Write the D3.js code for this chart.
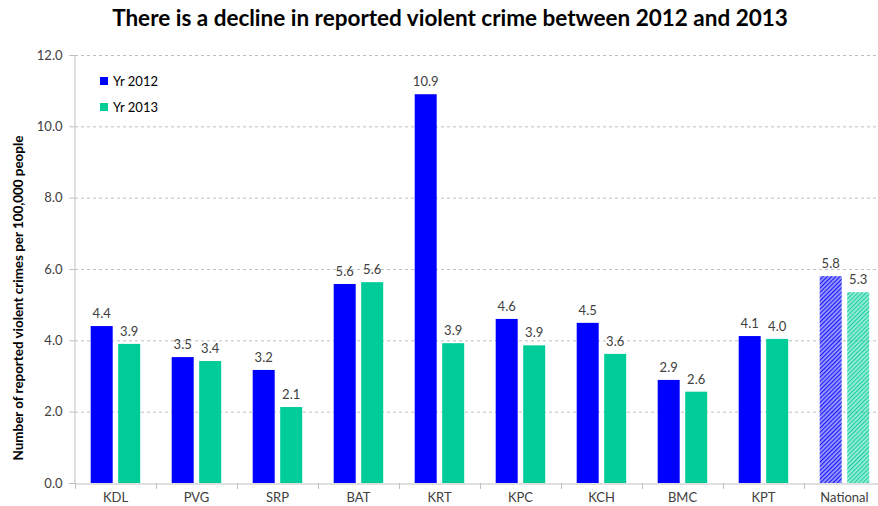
<!DOCTYPE html>
<html><head><meta charset="utf-8">
<script src="https://cdn.jsdelivr.net/npm/d3@7"></script>
<style>body{margin:0;background:#fff;} svg{display:block;font-family:Lato,"Open Sans",sans-serif;}</style>
</head><body>
<svg id="chart" width="878" height="506"></svg>
<script>
const categories = ["KDL","PVG","SRP","BAT","KRT","KPC","KCH","BMC","KPT","National"];
const values2012 = [4.40,3.53,3.17,5.58,10.90,4.60,4.49,2.89,4.12,5.80];
const values2013 = [3.90,3.42,2.13,5.63,3.92,3.86,3.62,2.56,4.04,5.35];
const seriesNames = ["Yr 2012","Yr 2013"];
const yTicks = [0,2,4,6,8,10,12];
const title = "There is a decline in reported violent crime between 2012 and 2013";
const yTitle = "Number of reported violent crimes per 100,000 people";

const svg = d3.select("#chart");
const x = d3.scaleBand().domain(categories).range([75, 885]).paddingInner(0).paddingOuter(0);
const y = d3.scaleLinear().domain([0,12]).range([483, 55]);
const colors = ["#0000FF","#00CC99"];

const defs = svg.append("defs");
[["hatchBlue","#0000FF"],["hatchGreen","#00CC99"]].forEach(([id,c])=>{
  const p = defs.append("pattern").attr("id",id).attr("patternUnits","userSpaceOnUse")
    .attr("width",3).attr("height",3).attr("patternTransform","rotate(45)");
  p.append("rect").attr("width",3).attr("height",3).attr("fill",c).attr("opacity",0.4);
  p.append("rect").attr("width",1.1).attr("height",3).attr("fill",c).attr("opacity",0.85);
});

// title
svg.append("text").attr("x",450).attr("y",26).attr("text-anchor","middle")
  .attr("font-size",22.5).attr("font-weight","bold").attr("fill","#000").text(title);

// gridlines
svg.append("g").selectAll("line").data(yTicks.filter(d=>d>0)).join("line")
  .attr("x1",75).attr("x2",878).attr("y1",d=>y(d)+0.5).attr("y2",d=>y(d)+0.5)
  .attr("stroke","#BFBFBF").attr("stroke-dasharray","3,3").attr("stroke-width",1);

// y axis
const yAxis = d3.axisLeft(y).tickValues(yTicks).tickFormat(d3.format(".1f")).tickSize(5).tickPadding(7);
const gy = svg.append("g").attr("transform","translate(74.5,0)").call(yAxis);
gy.selectAll("path,line").attr("stroke","#BFBFBF");
gy.selectAll("text").attr("font-size",13).attr("fill","#404040").attr("font-family","Lato,sans-serif");

// x axis
const xAxis = d3.axisBottom(x).tickSize(0).tickPadding(9);
const gx = svg.append("g").attr("transform","translate(0,483.5)").call(xAxis);
gx.select(".domain").attr("stroke","#BFBFBF");
gx.selectAll("text").attr("font-size",13).attr("fill","#404040").attr("font-family","Lato,sans-serif");
// category boundary ticks
svg.append("g").selectAll("line").data(categories).join("line")
  .attr("x1",d=>Math.round(x(d))+0.5).attr("x2",d=>Math.round(x(d))+0.5)
  .attr("y1",483).attr("y2",489).attr("stroke","#BFBFBF");

// y title
svg.append("text").attr("transform","translate(23,298) rotate(-90)").attr("text-anchor","middle")
  .attr("font-size",13.4).attr("font-weight","bold").attr("fill","#000").text(yTitle);

// bars
const bw = 22, gap = 5.5, off = 15.7;
const data = categories.map((c,i)=>({c, v:[values2012[i], values2013[i]]}));
const g = svg.append("g");
data.forEach((d,i)=>{
  d.v.forEach((v,s)=>{
    const bx = x(d.c) + off + s*(bw+gap);
    const isNat = d.c === "National";
    g.append("rect").attr("x",bx).attr("y",y(v)).attr("width",bw).attr("height",y(0)-y(v))
      .attr("fill", isNat ? (s===0?"url(#hatchBlue)":"url(#hatchGreen)") : colors[s]);
    g.append("text").attr("x",bx+bw/2).attr("y",y(v)-8).attr("text-anchor","middle")
      .attr("font-size",13).attr("fill","#404040").text(d3.format(".1f")(v));
  });
});

// legend
const lg = svg.append("g");
seriesNames.forEach((n,i)=>{
  lg.append("rect").attr("x",100).attr("y",77+i*26).attr("width",8).attr("height",8).attr("fill",colors[i]);
  lg.append("text").attr("x",113).attr("y",85.5+i*26).attr("font-size",13).attr("fill","#000").text(n);
});
</script>
</body></html>
